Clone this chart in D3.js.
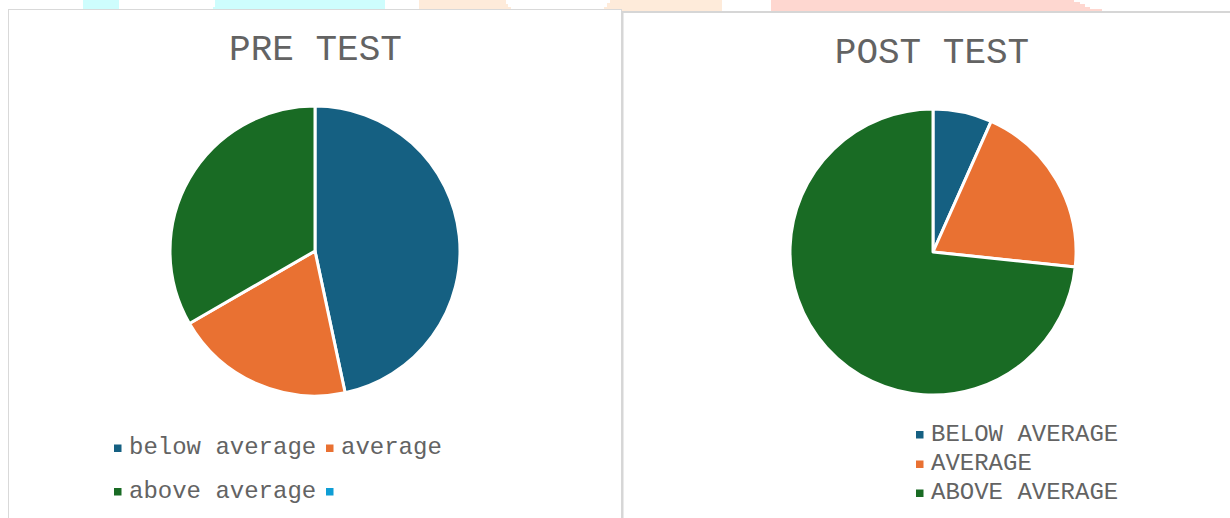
<!DOCTYPE html>
<html>
<head>
<meta charset="utf-8">
<script src="https://cdn.jsdelivr.net/npm/d3@7"></script>
<style>
  html, body { margin: 0; padding: 0; background: #ffffff; }
  svg { display: block; }
  text { font-family: "Liberation Mono", "Courier New", monospace; fill: #636363; }
</style>
</head>
<body>
<svg id="chart" width="1230" height="518"></svg>
<script>
// ---- data ----
const preCategories = ["below average", "average", "above average", ""];
const preValues = [14, 6, 10, 0];
const postCategories = ["BELOW AVERAGE", "AVERAGE", "ABOVE AVERAGE"];
const postValues = [2, 6, 22];
const sliceColors = ["#156082", "#E97132", "#196B24", "#0F9ED5"];
const titles = ["PRE TEST", "POST TEST"];

const svg = d3.select("#chart");

// background decorations (faded strip on top of the page)
const deco = svg.append("g");
[
  {pts: [[83,0],[119,0],[119,9],[83,9]], c: "#cefdfd"},
  {pts: [[215,0],[385,0],[385,9],[213,9],[213,7],[215,7]], c: "#cefdfd"},
  {pts: [[419,0],[506,0],[506,4],[508,4],[508,7],[511,7],[511,10],[419,10]], c: "#feebda"},
  {pts: [[610,0],[722,0],[722,11],[604,11],[604,7],[607,7],[607,3],[610,3]], c: "#feebda"},
  {pts: [[771,0],[1074,0],[1074,2],[1080,2],[1080,4],[1085,4],[1085,7],[1090,7],[1090,9],[1102,9],[1102,11],[771,11]], c: "#fed7d0"}
].forEach(d => deco.append("polygon").attr("points", d.pts.map(p => p.join(",")).join(" ")).attr("fill", d.c));

// chart frames
svg.append("rect").attr("x", 8.5).attr("y", 9.5).attr("width", 613).attr("height", 520)
  .attr("fill", "#ffffff").attr("stroke", "#d9d9d9").attr("stroke-width", 1);
svg.append("rect").attr("x", 622.5).attr("y", 12).attr("width", 620).attr("height", 520)
  .attr("fill", "#ffffff").attr("stroke", "#d6d6d6").attr("stroke-width", 2);

function drawPie(cx, cy, r, cats, vals, title, tx, ty) {
  const g = svg.append("g");
  g.append("text").attr("x", tx).attr("y", ty).attr("text-anchor", "middle")
    .attr("font-size", 36).text(title);
  const data = cats.map((c, i) => ({cat: c, value: vals[i], color: sliceColors[i]}));
  const pie = d3.pie().value(d => d.value).sort(null);
  const arc = d3.arc().innerRadius(0).outerRadius(r);
  g.append("g").attr("transform", `translate(${cx},${cy})`)
    .selectAll("path").data(pie(data).filter(d => d.data.value > 0)).join("path")
    .attr("d", arc).attr("fill", d => d.data.color)
    .attr("stroke", "#ffffff").attr("stroke-width", 3).attr("stroke-linejoin", "round");
  return data;
}

const preData = drawPie(315, 251, 145, preCategories, preValues, titles[0], 315.5, 60);
const postData = drawPie(933, 252, 143, postCategories, postValues, titles[1], 932, 63);

// legends
const preLeg = svg.append("g");
const preCols = [114, 326], preRows = [444.5, 488];
preData.forEach((d, i) => {
  const x = preCols[i % 2], y = preRows[Math.floor(i / 2)];
  preLeg.append("rect").attr("x", x).attr("y", y).attr("width", 7.5).attr("height", 7.5).attr("fill", d.color);
  preLeg.append("text").attr("x", x + 15).attr("y", y + 9.5).attr("font-size", 24).text(d.cat);
});

const postLeg = svg.append("g");
const postRows = [431, 460.5, 489.5];
postData.forEach((d, i) => {
  const x = 916, y = postRows[i];
  postLeg.append("rect").attr("x", x).attr("y", y).attr("width", 7.5).attr("height", 7.5).attr("fill", d.color);
  postLeg.append("text").attr("x", x + 15).attr("y", y + 9.5).attr("font-size", 24).text(d.cat);
});
</script>
</body>
</html>
